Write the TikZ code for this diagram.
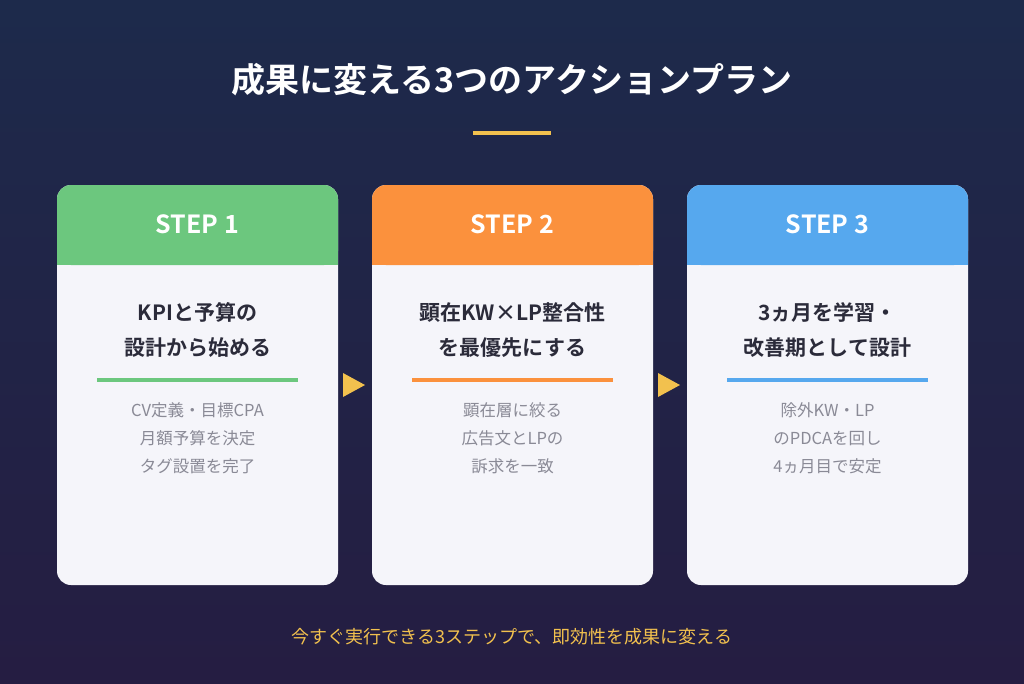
\documentclass[tikz,border=0pt]{standalone}
\usepackage{fontspec}
\setmainfont{Noto Sans CJK JP}
\newfontfamily\jpb{Noto Sans CJK JP}[BoldFont={* Bold}]
\begin{document}
\definecolor{bgtop}{HTML}{1D2A4B}
\definecolor{bgbot}{HTML}{251D42}
\definecolor{cardbg}{HTML}{F5F5FA}
\definecolor{gold}{HTML}{F2C14E}
\definecolor{cgreen}{HTML}{6CC77E}
\definecolor{corange}{HTML}{FB913D}
\definecolor{cblue}{HTML}{56A8EE}
\definecolor{dark}{HTML}{2B2B3A}
\definecolor{greytxt}{HTML}{8A8A96}
\begin{tikzpicture}[x=1pt,y=-1pt,
  card/.style={fill=cardbg,rounded corners=14pt},
  head/.style={font=\jpb\bfseries\fontsize{25}{28}\selectfont,text=white},
  ctitle/.style={font=\jpb\bfseries\fontsize{21}{35}\selectfont,text=dark,align=center},
  body/.style={font=\jpb\fontsize{16.5}{28}\selectfont,text=greytxt,align=center},
  tri/.style={fill=gold}]
\shade[top color=bgtop,bottom color=bgbot] (0,0) rectangle (1024,683);
\useasboundingbox (0,0) rectangle (1024,683);
\node[font=\jpb\bfseries\fontsize{34}{38}\selectfont,text=white] (title) at (512,80) {成果に変える3つのアクションプラン};
\fill[gold] (473,131) rectangle (551,135);
\foreach \x/\c/\n/\t/\b in {
 57/cgreen/1/{KPIと予算の\\設計から始める}/{CV定義・目標CPA\\月額予算を決定\\タグ設置を完了},
 372/corange/2/{顕在KW×LP整合性\\を最優先にする}/{顕在層に絞る\\広告文とLPの\\訴求を一致},
 687/cblue/3/{3ヵ月を学習・\\改善期として設計}/{除外KW・LP\\のPDCAを回し\\4ヵ月目で安定}}{
  \fill[card] (\x,185) rectangle ++(281,400);
  \fill[\c,rounded corners=14pt] (\x,185) rectangle ++(281,80);
  \fill[\c] (\x,240) rectangle ++(281,25);
  \node[head] (h\n) at (\x+140.5,224) {STEP \n};
  \node[ctitle] (t\n) at (\x+140.5,330) {\t};
  \fill[\c] (\x+40,378) rectangle ++(201,4);
  \node[body] (b\n) at (\x+140.5,438) {\b};
}
\fill[tri] (343,373) -- (365,385) -- (343,397) -- cycle;
\fill[tri] (658,373) -- (680,385) -- (658,397) -- cycle;
\node[font=\jpb\fontsize{18}{22}\selectfont,text=gold] (foot) at (512,637) {今すぐ実行できる3ステップで、即効性を成果に変える};
\end{tikzpicture}
\end{document}
